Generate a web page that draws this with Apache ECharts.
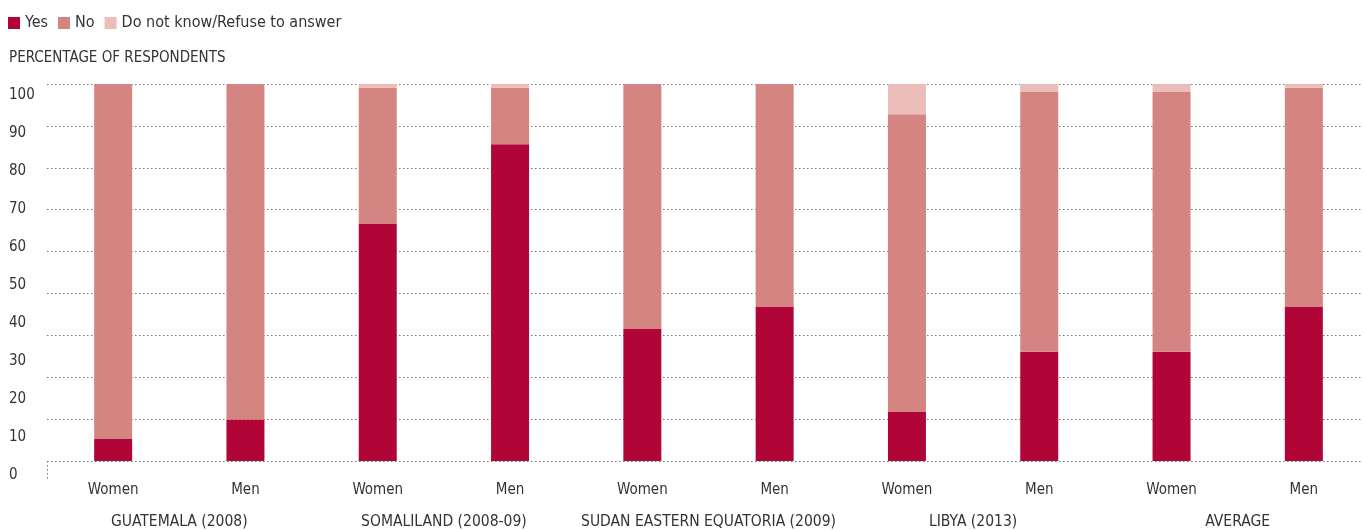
<!DOCTYPE html>
<html>
<head>
<meta charset="utf-8">
<script src="https://cdn.jsdelivr.net/npm/echarts@6/dist/echarts.min.js"></script>
<style>html,body{margin:0;padding:0;background:#fff;overflow:hidden}#c{width:1372px;height:530px}</style>
</head>
<body>
<div id="c"></div>
<script>
var categories = ['Women','Men','Women','Men','Women','Men','Women','Men','Women','Men'];
var groups = ['GUATEMALA (2008)','SOMALILAND (2008-09)','SUDAN EASTERN EQUATORIA (2009)','LIBYA (2013)','AVERAGE'];
var yesValues = [6, 11, 63, 84, 35, 41, 13, 29, 29, 41];
var noValues = [94, 89, 36, 15, 65, 59, 79, 69, 69, 58];
var dkValues = [0, 0, 1, 1, 0, 0, 8, 2, 2, 1];
var tickLabels = [0,10,20,30,40,50,60,70,80,90,100];

var FONT = "'Liberation Sans Narrow','DejaVu Sans Condensed','Roboto',sans-serif";
var TXT = '#333333';
var chart = echarts.init(document.getElementById('c'));
chart.setOption({
  animation: false,
  textStyle: {fontFamily: FONT, color: TXT},
  title: {
    text: 'PERCENTAGE OF RESPONDENTS', left: 9, top: 51, padding: 0,
    textStyle: {fontFamily: FONT, fontSize: 15, fontWeight: 'normal', color: TXT}
  },
  legend: {
    left: 8, top: 15, padding: 0, icon: 'rect', itemWidth: 12, itemHeight: 12, itemGap: 10,
    textStyle: {fontFamily: FONT, fontSize: 16, color: TXT},
    data: ['Yes','No','Do not know/Refuse to answer']
  },
  grid: [
    {left: 47, top: 84, height: 378, width: 1323},
    {left: 47, top: 95, height: 380, width: 10}
  ],
  xAxis: [
    {
      type: 'category', gridIndex: 0, data: categories,
      axisLine: {show: false},
      axisTick: {show: true, length: 18, interval: function(i){ return i === 0; },
        lineStyle: {color: '#777', type: [1.5, 2.5]}},
      axisLabel: {interval: 0, fontFamily: FONT, fontSize: 15, color: TXT, margin: 22}
    },
    {
      type: 'category', gridIndex: 0, data: groups, position: 'bottom', offset: 31,
      axisLine: {show: false}, axisTick: {show: false},
      axisLabel: {interval: 0, fontFamily: FONT, fontSize: 15.5, color: TXT, margin: 22}
    },
    {type: 'category', gridIndex: 1, show: false, data: ['']}
  ],
  yAxis: [
    {
      type: 'value', gridIndex: 0, min: 0, max: 100, interval: 100/9,
      axisLabel: {show: false}, axisLine: {show: false}, axisTick: {show: false},
      splitLine: {show: true, lineStyle: {color: '#777', width: 1, type: [1.5, 2.5]}}
    },
    {
      type: 'value', gridIndex: 1, min: 0, max: 100, interval: 10,
      axisLine: {show: false}, axisTick: {show: false}, splitLine: {show: false},
      axisLabel: {align: 'left', margin: 38, fontFamily: FONT, fontSize: 15, color: TXT,
        formatter: function(v){ return tickLabels.indexOf(v) >= 0 ? String(v) : ''; }}
    }
  ],
  series: [
    {name: 'Yes', type: 'bar', stack: 's', barWidth: 38, data: yesValues,
      itemStyle: {color: '#B10538'}},
    {name: 'No', type: 'bar', stack: 's', barWidth: 38, data: noValues,
      itemStyle: {color: '#D58581'}},
    {name: 'Do not know/Refuse to answer', type: 'bar', stack: 's', barWidth: 38, data: dkValues,
      itemStyle: {color: '#EABDB8'}}
  ]
});
</script>
</body>
</html>
